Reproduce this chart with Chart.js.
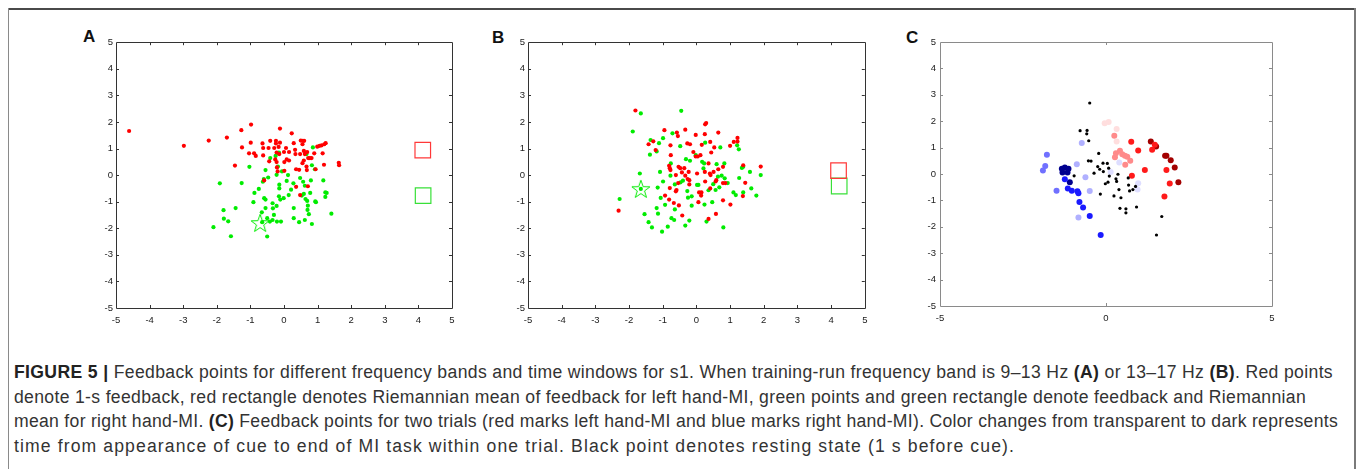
<!DOCTYPE html>
<html>
<head>
<meta charset="utf-8">
<script src="https://cdn.jsdelivr.net/npm/chart.js@4.4.1/dist/chart.umd.min.js"></script>
<style>
  html, body { margin: 0; padding: 0; background: #fff; }
  body { width: 1358px; height: 469px; position: relative; overflow: hidden; font-family: "Liberation Sans", Arial, Helvetica, sans-serif; }
  .frameTop { position: absolute; left: 8px; top: 8px; width: 1348px; height: 0; border-top: 2px solid #4a4a4a; }
  .frameL { position: absolute; left: 8px; top: 8px; width: 0; height: 461px; border-left: 1px solid #8a8a8a; }
  .frameR { position: absolute; left: 1354px; top: 8px; width: 0; height: 461px; border-left: 2px solid #7a7a7a; }
  .panel { position: absolute; }
  .lbl { position: absolute; font-weight: bold; font-size: 17px; color: #111; line-height: 17px; }
  .cap { position: absolute; left: 14px; white-space: nowrap; font-size: 17.6px; line-height: 24px; color: #333; }
  .cap b { color: #222; }
</style>
</head>
<body>
<div class="frameTop"></div><div class="frameL"></div><div class="frameR"></div>

<div class="lbl" style="left:83px;top:28px">A</div>
<div class="lbl" style="left:492px;top:29px">B</div>
<div class="lbl" style="left:906px;top:29px">C</div>

<div class="panel" style="left:85px;top:30px;width:380px;height:305px"><canvas id="cA"></canvas></div>
<div class="panel" style="left:497px;top:30px;width:380px;height:305px"><canvas id="cB"></canvas></div>
<div class="panel" style="left:909px;top:30px;width:375px;height:305px"><canvas id="cC"></canvas></div>

<div class="cap" data-w="1319" style="top:360px"><b>FIGURE 5 |</b> Feedback points for different frequency bands and time windows for s1. When training-run frequency band is 9–13 Hz <b>(A)</b> or 13–17 Hz <b>(B)</b>. Red points</div>
<div class="cap" data-w="1292" style="top:385px">denote 1-s feedback, red rectangle denotes Riemannian mean of feedback for left hand-MI, green points and green rectangle denote feedback and Riemannian</div>
<div class="cap" data-w="1324" style="top:409px">mean for right hand-MI. <b>(C)</b> Feedback points for two trials (red marks left hand-MI and blue marks right hand-MI). Color changes from transparent to dark represents</div>
<div class="cap" data-w="1001" style="top:434px">time from appearance of cue to end of MI task within one trial. Black point denotes resting state (1 s before cue).</div>

<script>
// ---------------- DATA ----------------
// Panel A (9–13 Hz)
const A_RED = [[-4.61,1.66],[-2.98,1.10],[-2.24,1.30],[-1.70,1.41],[-1.27,1.69],[-1.25,1.04],[-1.46,0.36],[-0.98,1.90],[-0.99,1.22],[-1.04,0.82],[-0.89,0.82],[-0.84,0.72],[-0.64,1.19],[-0.62,1.02],[-0.62,0.74],[-0.46,1.02],[-0.41,1.29],[-0.44,0.52],[-0.29,1.02],[-0.24,1.29],[-0.24,1.19],[-0.22,0.85],[-0.26,0.59],[-0.22,0.49],[-0.21,0.29],[-0.19,0.14],[-0.16,1.06],[-0.12,1.22],[-0.12,1.75],[-0.14,0.79],[0.00,0.87],[0.06,1.02],[0.01,0.49],[0.08,0.59],[0.15,0.55],[0.15,0.87],[0.01,0.16],[0.23,1.57],[0.29,1.20],[0.33,0.95],[0.34,0.79],[0.36,0.22],[0.45,0.20],[0.36,-0.44],[0.48,0.79],[0.50,1.30],[0.56,1.29],[0.60,1.29],[0.55,1.16],[0.59,0.91],[0.62,0.79],[0.55,0.45],[0.65,0.85],[0.69,0.87],[0.67,0.32],[0.68,0.19],[0.59,0.55],[0.72,0.64],[0.77,0.64],[0.82,0.64],[0.90,0.82],[0.94,0.22],[0.99,1.07],[1.06,1.10],[1.12,1.12],[1.20,1.16],[1.24,1.20],[1.15,0.82],[1.19,0.39],[1.63,0.46],[1.64,0.37],[0.48,-0.75],[0.71,-0.42],[-0.59,-0.20]];
const A_GREEN = [[-1.91,-0.31],[-1.26,-0.30],[-1.03,0.31],[-1.44,-1.24],[-1.80,-1.32],[-1.79,-1.64],[-1.66,-1.74],[-2.10,-1.96],[-1.58,-2.30],[-0.91,-1.02],[-0.88,-0.67],[-0.75,-0.52],[-0.63,-0.25],[-0.60,-0.15],[-0.55,0.19],[-0.47,-0.09],[-0.41,0.64],[-0.25,0.72],[-0.16,0.81],[-0.15,0.85],[-0.18,0.32],[-0.22,0.01],[-0.14,-0.36],[-0.14,-0.50],[-0.06,0.14],[0.08,-0.22],[0.12,0.00],[0.21,-0.55],[0.14,-0.75],[-0.01,-0.87],[-0.15,-0.80],[-0.11,-0.92],[-0.59,-0.87],[-0.55,-0.92],[-0.55,-1.24],[-0.34,-1.06],[-0.33,-1.25],[-0.22,-1.16],[-0.30,-1.50],[-0.66,-1.40],[-0.65,-1.77],[-0.50,-1.62],[-0.42,-1.75],[-0.34,-1.69],[-0.21,-1.75],[-0.09,-1.75],[-0.50,-2.31],[0.28,-0.31],[0.29,-1.24],[0.29,-1.62],[0.45,-1.77],[0.48,-0.11],[0.57,-0.25],[0.62,-0.40],[0.59,-0.71],[0.53,-0.77],[0.64,-0.90],[0.69,-0.97],[0.71,-1.15],[0.70,-1.31],[0.74,-1.47],[0.62,-1.69],[0.83,-1.84],[0.78,-0.67],[0.80,-0.20],[0.83,0.37],[0.86,1.04],[0.67,0.79],[0.92,0.22],[0.93,-0.99],[0.95,-1.02],[1.17,-0.20],[1.23,-0.65],[1.27,-0.67],[1.23,-0.82],[1.41,-1.45]];
const A_STAR = [[-0.71,-1.80]];
const A_RED_MEAN = [[4.13,0.94]];
const A_GREEN_MEAN = [[4.14,-0.77]];

// Panel B (13–17 Hz)
const B_RED = [[-1.81,2.43],[-2.31,-1.34],[-1.42,1.16],[-1.28,1.27],[-1.21,0.94],[-0.95,1.69],[-0.55,1.47],[-0.58,1.60],[-0.33,1.71],[-0.77,1.12],[-0.76,0.75],[-0.81,0.35],[-0.77,0.19],[-0.79,0.26],[-0.93,-0.77],[-0.81,-0.92],[-0.79,-0.49],[-0.61,-0.61],[-0.59,-0.56],[-0.67,-1.05],[-0.52,-1.14],[-0.61,0.00],[-0.53,0.31],[-0.48,0.26],[-0.36,0.26],[-0.27,1.19],[-0.19,1.16],[-0.33,-0.02],[-0.23,0.12],[-0.26,-0.15],[-0.21,-0.19],[-0.21,-0.35],[-0.54,-0.30],[-0.42,-1.52],[-0.09,0.87],[-0.02,1.51],[-0.02,0.70],[0.04,0.70],[0.02,0.06],[0.06,-1.02],[0.08,-0.65],[0.15,-0.65],[0.14,-0.77],[0.16,1.14],[0.25,1.54],[0.26,1.91],[0.29,1.96],[0.12,0.75],[0.25,0.12],[0.36,0.44],[0.40,0.06],[0.42,0.00],[0.36,-1.65],[0.41,-0.50],[0.44,0.85],[0.41,1.25],[0.53,1.04],[0.51,0.12],[0.59,-0.19],[0.57,-0.24],[0.65,0.22],[0.65,1.60],[0.58,-1.46],[0.79,0.31],[0.79,-0.95],[0.79,-0.30],[0.86,-0.30],[1.00,1.10],[1.01,-1.11],[1.11,1.25],[1.22,1.26],[1.22,1.40],[1.39,0.37],[1.38,-0.79],[1.45,-0.29],[1.91,0.32],[-0.43,0.10],[0.26,-0.24]];
const B_GREEN = [[-1.65,2.32],[-0.45,2.42],[-1.89,1.64],[-1.36,1.32],[-0.99,1.39],[-1.11,1.20],[-1.18,0.89],[-1.38,0.77],[-0.71,1.57],[-0.48,1.09],[-1.68,0.06],[-1.65,-0.52],[-2.28,-0.90],[-1.08,0.12],[-0.99,-0.24],[-1.15,-0.47],[-1.06,-0.86],[-1.18,-1.24],[-1.14,-1.45],[-1.54,-1.47],[-1.42,-1.77],[-1.32,-1.97],[-1.02,-2.13],[-0.85,-1.94],[-0.93,-1.12],[-0.64,-1.29],[-0.74,-1.62],[-0.66,-1.69],[-0.76,0.44],[-0.77,-0.02],[-0.64,-0.35],[-0.40,-0.21],[-0.31,0.60],[-0.19,0.54],[-0.27,-0.60],[-0.25,-0.85],[-0.14,-0.80],[-0.14,-1.15],[-0.21,-1.71],[-0.33,-1.90],[-0.02,0.75],[0.02,-0.37],[0.06,-0.37],[0.17,0.50],[0.23,0.44],[0.21,0.25],[0.26,1.22],[0.24,-1.11],[0.36,-0.57],[0.30,-1.75],[0.47,-1.02],[0.50,-0.34],[0.57,-0.56],[0.60,0.41],[0.64,-0.06],[0.68,-0.46],[0.71,1.04],[0.75,-0.02],[0.83,0.44],[0.84,-0.12],[0.93,-0.30],[0.80,-1.97],[1.10,-0.65],[1.17,-0.75],[1.21,1.12],[1.26,0.97],[1.27,-0.11],[1.35,0.27],[1.39,0.31],[1.39,-0.65],[1.59,0.12],[1.63,-0.50],[1.78,-0.77],[1.91,0.00],[-0.47,-0.27]];
const B_STAR = [[-1.65,-0.52]];
const B_RED_MEAN = [[4.22,0.17]];
const B_GREEN_MEAN = [[4.24,-0.41]];

// Panel C (two trials; shade = time within trial)
const C_REST = [[-0.49,2.69],[-0.78,1.64],[-0.57,1.65],[-0.58,1.52],[-0.52,1.26],[-0.22,0.78],[-0.53,0.50],[-0.45,0.49],[-0.96,-0.07],[-0.36,0.03],[-0.25,0.28],[-0.19,0.18],[-0.09,0.41],[0.04,0.40],[-0.08,0.09],[0.08,0.22],[0.10,-0.08],[0.06,-0.31],[-0.02,-0.37],[-0.17,-0.76],[0.24,-0.83],[0.30,-0.18],[0.36,-0.01],[0.32,-0.28],[0.39,-0.59],[0.45,-0.90],[0.42,-1.30],[0.60,-1.32],[0.60,-1.47],[0.67,-0.15],[0.68,-0.42],[0.71,-0.64],[0.81,-0.59],[0.89,-0.47],[0.92,-1.25],[1.68,-1.61],[1.52,-2.31]];
const C_LEFT_1 = [[-0.04,1.92],[0.08,1.97],[0.32,1.23],[0.32,1.70]];
const C_LEFT_2 = [[0.25,1.45],[0.27,0.63],[0.30,0.79],[0.42,0.88],[0.49,0.75],[0.57,0.69],[0.64,0.65],[0.58,0.35],[0.73,0.50]];
const C_LEFT_3 = [[0.78,-0.07],[0.76,1.22],[0.97,0.89],[1.17,0.15],[1.39,0.92],[1.47,1.11],[1.76,-0.85],[1.82,0.15],[1.92,-0.36]];
const C_LEFT_4 = [[1.35,1.23],[1.51,1.04],[1.78,0.69],[1.82,0.69],[1.95,0.52],[2.07,0.25],[2.18,-0.31]];
const C_RIGHT_1 = [[0.14,0.08],[0.40,0.44],[0.97,-0.35],[0.95,-0.59]];
const C_RIGHT_2 = [[-0.73,1.17],[-0.88,0.37],[-0.62,-0.12],[-0.49,-0.64],[-0.83,-1.65]];
const C_RIGHT_3 = [[-1.78,0.73],[-1.83,0.30],[-1.90,0.13],[-1.49,-0.63]];
const C_RIGHT_4 = [[-1.24,-0.20],[-1.15,-0.55],[-1.03,-0.63],[-0.86,-0.65],[-0.83,-0.73],[-0.80,-1.06],[-0.69,-1.27],[-0.49,-1.59],[-0.16,-2.31]];
const C_RIGHT_5 = [[-1.33,0.20],[-1.24,0.25],[-1.13,0.20],[-1.31,0.06],[-1.16,0.06],[-1.09,-0.31]];

const AXIS_MIN = -5, AXIS_MAX = 5;
const AB_TICK_STEP = 1;
const C_X_TICK_STEP = 5;
const C_Y_TICK_STEP = 1;

// ---------------- CAPTION FIT ----------------
document.querySelectorAll('.cap').forEach(el => {
  const target = +el.dataset.w;
  const w = el.getBoundingClientRect().width;
  const n = el.textContent.length;
  el.style.letterSpacing = ((target - w) / n) + 'px';
});

// ---------------- HELPERS ----------------
const pts = arr => arr.map(p => ({x: p[0], y: p[1]}));

function makeStar(color) {
  const s = 22, c = document.createElement('canvas');
  c.width = s; c.height = s;
  const g = c.getContext('2d');
  const cx = s / 2, cy = s / 2 + 0.8, R = 9.5, r = 3.8;
  g.beginPath();
  for (let i = 0; i < 10; i++) {
    const ang = -Math.PI / 2 + i * Math.PI / 5;
    const rad = i % 2 === 0 ? R : r;
    const px = cx + rad * Math.cos(ang), py = cy + rad * Math.sin(ang);
    i === 0 ? g.moveTo(px, py) : g.lineTo(px, py);
  }
  g.closePath();
  g.strokeStyle = color; g.lineWidth = 1; g.stroke();
  return c;
}

const boxTicks = {
  id: 'boxTicks',
  afterDatasetsDraw(chart, args, opts) {
    const {ctx, chartArea: {left, right, top, bottom}, scales: {x, y}} = chart;
    const L = opts.len || 3;
    ctx.save();
    ctx.strokeStyle = opts.color; ctx.lineWidth = 1;
    ctx.beginPath();
    ctx.rect(Math.round(left) + 0.5, Math.round(top) + 0.5, Math.round(right - left), Math.round(bottom - top));
    x.ticks.forEach(t => {
      const px = Math.round(x.getPixelForValue(t.value)) + 0.5;
      if (px <= left + 1 || px >= right - 1) return;
      ctx.moveTo(px, bottom); ctx.lineTo(px, bottom - L);
      ctx.moveTo(px, top); ctx.lineTo(px, top + L);
    });
    y.ticks.forEach(t => {
      const py = Math.round(y.getPixelForValue(t.value)) + 0.5;
      if (py <= top + 1 || py >= bottom - 1) return;
      ctx.moveTo(left, py); ctx.lineTo(left + L, py);
      ctx.moveTo(right, py); ctx.lineTo(right - L, py);
    });
    ctx.stroke();
    ctx.restore();
  }
};

function scatterDS(data, color, radius) {
  return { data: pts(data), backgroundColor: color, borderColor: color, borderWidth: 0, pointRadius: radius, pointHoverRadius: radius, pointStyle: 'circle' };
}
function rectDS(data, color) {
  return { data: pts(data), backgroundColor: 'rgba(0,0,0,0)', borderColor: color, borderWidth: 1.2, pointRadius: 11, pointHoverRadius: 11, pointStyle: 'rect' };
}
function starDS(data, color) {
  return { data: pts(data), pointStyle: makeStar(color), pointRadius: 10, pointHoverRadius: 10, backgroundColor: color, borderColor: color };
}

function makeChart(id, datasets, o) {
  const tickFont = { family: '"Liberation Sans", Arial, sans-serif', size: 9.5 };
  new Chart(document.getElementById(id), {
    type: 'scatter',
    data: { datasets },
    plugins: [boxTicks],
    options: {
      responsive: true, maintainAspectRatio: false, animation: false,
      events: [],
      layout: { padding: { left: 0, top: o.padTop, right: o.padRight, bottom: 0 } },
      plugins: { legend: { display: false }, tooltip: { enabled: false }, boxTicks: { color: o.axisColor, len: 3 } },
      scales: {
        x: {
          type: 'linear', min: AXIS_MIN, max: AXIS_MAX,
          ticks: { stepSize: o.xStep, color: '#222', font: tickFont, padding: o.xPad, maxRotation: 0, autoSkip: false,
                   callback: v => String(v) },
          grid: { display: false, drawTicks: false },
          border: { display: false },
          afterFit: s => { s.height = o.xH; }
        },
        y: {
          type: 'linear', min: AXIS_MIN, max: AXIS_MAX,
          ticks: { stepSize: o.yStep, color: '#222', font: tickFont, padding: o.yPad, autoSkip: false,
                   callback: v => String(v) },
          grid: { display: false, drawTicks: false },
          border: { display: false },
          afterFit: s => { s.width = o.yW; }
        }
      }
    }
  });
}

// ---------------- CHARTS ----------------
const RED = '#ff0000', GREEN = '#00ec00';
makeChart('cA', [
  scatterDS(A_RED, RED, 2.1),
  scatterDS(A_GREEN, GREEN, 2.1),
  starDS(A_STAR, GREEN),
  rectDS(A_RED_MEAN, '#ff3838'),
  rectDS(A_GREEN_MEAN, '#38e038')
], { padTop: 11, padRight: 13, xH: 27, yW: 31, xStep: AB_TICK_STEP, yStep: AB_TICK_STEP, xPad: 7, yPad: 3, axisColor: '#333' });

makeChart('cB', [
  scatterDS(B_RED, RED, 2.1),
  scatterDS(B_GREEN, GREEN, 2.1),
  starDS(B_STAR, GREEN),
  rectDS(B_RED_MEAN, '#ff3838'),
  rectDS(B_GREEN_MEAN, '#38e038')
], { padTop: 11, padRight: 11, xH: 27, yW: 31, xStep: AB_TICK_STEP, yStep: AB_TICK_STEP, xPad: 7, yPad: 3, axisColor: '#333' });

makeChart('cC', [
  scatterDS(C_REST, '#000000', 1.6),
  scatterDS(C_LEFT_1, '#ffdede', 3),
  scatterDS(C_LEFT_2, '#ff8a8a', 3),
  scatterDS(C_LEFT_3, '#ff1a1a', 3),
  scatterDS(C_LEFT_4, '#a30000', 3),
  scatterDS(C_RIGHT_1, '#dedeff', 3),
  scatterDS(C_RIGHT_2, '#b0b0ff', 3),
  scatterDS(C_RIGHT_3, '#7070ff', 3),
  scatterDS(C_RIGHT_4, '#1a1aff', 3),
  scatterDS(C_RIGHT_5, '#00008f', 3)
], { padTop: 12, padRight: 12, xH: 29, yW: 31, xStep: C_X_TICK_STEP, yStep: C_Y_TICK_STEP, xPad: 7, yPad: 4, axisColor: '#8a8a8a' });
</script>
</body>
</html>
